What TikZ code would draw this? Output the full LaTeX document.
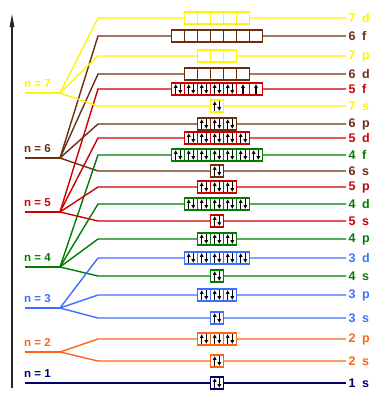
\documentclass[tikz,border=0pt]{standalone}
\usepackage{fontspec}
\setmainfont{Liberation Sans}
\usetikzlibrary{arrows.meta}
\definecolor{cY}{RGB}{255,245,0}
\definecolor{cBr}{RGB}{110,45,15}
\definecolor{cR}{RGB}{204,0,0}
\definecolor{cG}{RGB}{0,125,0}
\definecolor{cB}{RGB}{60,110,255}
\definecolor{cO}{RGB}{255,100,20}
\definecolor{cN}{RGB}{0,0,110}
\tikzset{
  lvl/.style={line width=1.4pt},
  lab/.style={font=\bfseries\fontsize{12.5}{12.5}\selectfont, anchor=west, inner sep=0pt},
  nlab/.style={font=\bfseries\fontsize{11.5}{11.5}\selectfont, anchor=base west, inner sep=0pt},
  orbbox/.style={draw, fill=white, line width=1.2pt, minimum height=12pt, inner sep=0pt},
  elec/.style={-{Triangle[length=3.6pt,width=3.6pt]}, line width=1.3pt, black},
}
\newcommand\shell[4]{% name, y, color, label
  \coordinate (#1l) at (25,#2);
  \coordinate (#1f) at (60,#2);
  \draw[lvl,#3] (#1l) -- (#1f);
  \node[nlab,text=#3] (#1t) at (24,#2-6) {#4};
}
\newcommand\orbline[5]{% name, y, color, label, shell
  \coordinate (#1b) at (98,#2);
  \coordinate (#1e) at (346,#2);
  \draw[lvl,#3] (#5f) -- (#1b) -- (#1e);
  \node[lab,text=#3] (#1t) at (348.5,#2) {#4};
}
\newcommand\orbcells[5]{% name, y, color, ncells, states
  \node[orbbox,draw=#3,minimum width=#4*13pt] (#1box) at (217,#2) {};
  \foreach \s [count=\i] in {#5} {
    \pgfmathsetmacro\cx{217-#4*6.5+(\i-0.5)*13}
    \ifnum\i>1 \draw[#3,line width=1.2pt] (\cx-6.5,#2-6) -- (\cx-6.5,#2+6); \fi
    \ifnum\s=2
      \draw[elec] (\cx-2.3,#2+4.7) -- (\cx-2.3,#2-4.7);
      \draw[elec] (\cx+2.3,#2-4.7) -- (\cx+2.3,#2+4.7);
    \fi
    \ifnum\s=1
      \draw[elec] (\cx,#2+4.7) -- (\cx,#2-4.7);
    \fi
  }
}
\begin{document}
\begin{tikzpicture}[x=1pt,y=-1pt]
\useasboundingbox (0,0) rectangle (379,394);
% axis
\coordinate (axB) at (12,388);
\coordinate (axT) at (12,14);
\draw[line width=1.3pt,black!85,-{Triangle[length=13pt,width=4.5pt]}] (axB) -- (axT);
% shells
\shell{s7}{93}{cY}{n = 7}
\shell{s6}{158}{cBr}{n = 6}
\shell{s5}{212}{cR}{n = 5}
\shell{s4}{267}{cG}{n = 4}
\shell{s3}{308}{cB}{n = 3}
\shell{s2}{352}{cO}{n = 2}
\shell{s1}{383}{cN}{n = 1}
% orbital lines
\orbline{o4f}{155}{cG}{4\hspace{3pt} f}{s4}
\orbline{o4d}{204}{cG}{4\hspace{3pt} d}{s4}
\orbline{o4p}{239}{cG}{4\hspace{3pt} p}{s4}
\orbline{o4s}{276}{cG}{4\hspace{3pt} s}{s4}
\orbline{o3d}{258}{cB}{3\hspace{3pt} d}{s3}
\orbline{o3p}{295}{cB}{3\hspace{3pt} p}{s3}
\orbline{o3s}{318}{cB}{3\hspace{3pt} s}{s3}
\orbline{o2p}{339}{cO}{2\hspace{3pt} p}{s2}
\orbline{o2s}{361}{cO}{2\hspace{3pt} s}{s2}
\orbline{o1s}{383}{cN}{1\hspace{3pt} s}{s1}
\orbline{o5f}{89}{cR}{5\hspace{3pt} f}{s5}
\orbline{o5d}{138}{cR}{5\hspace{3pt} d}{s5}
\orbline{o5p}{187}{cR}{5\hspace{3pt} p}{s5}
\orbline{o5s}{221}{cR}{5\hspace{3pt} s}{s5}
\orbline{o6f}{36}{cBr}{6\hspace{3pt} f}{s6}
\orbline{o6d}{74}{cBr}{6\hspace{3pt} d}{s6}
\orbline{o6p}{124}{cBr}{6\hspace{3pt} p}{s6}
\orbline{o6s}{171}{cBr}{6\hspace{3pt} s}{s6}
\orbline{o7d}{18}{cY}{7\hspace{3pt} d}{s7}
\orbline{o7p}{56}{cY}{7\hspace{3pt} p}{s7}
\orbline{o7s}{106}{cY}{7\hspace{3pt} s}{s7}
% boxes
\orbcells{o7d}{18}{cY}{5}{0,0,0,0,0}
\orbcells{o6f}{36}{cBr}{7}{0,0,0,0,0,0,0}
\orbcells{o7p}{56}{cY}{3}{0,0,0}
\orbcells{o6d}{74}{cBr}{5}{0,0,0,0,0}
\orbcells{o5f}{89}{cR}{7}{2,2,2,2,2,1,1}
\orbcells{o7s}{106}{cY}{1}{2}
\orbcells{o6p}{124}{cBr}{3}{2,2,2}
\orbcells{o5d}{138}{cR}{5}{2,2,2,2,2}
\orbcells{o4f}{155}{cG}{7}{2,2,2,2,2,2,2}
\orbcells{o6s}{171}{cBr}{1}{2}
\orbcells{o5p}{187}{cR}{3}{2,2,2}
\orbcells{o4d}{204}{cG}{5}{2,2,2,2,2}
\orbcells{o5s}{221}{cR}{1}{2}
\orbcells{o4p}{239}{cG}{3}{2,2,2}
\orbcells{o3d}{258}{cB}{5}{2,2,2,2,2}
\orbcells{o4s}{276}{cG}{1}{2}
\orbcells{o3p}{295}{cB}{3}{2,2,2}
\orbcells{o3s}{318}{cB}{1}{2}
\orbcells{o2p}{339}{cO}{3}{2,2,2}
\orbcells{o2s}{361}{cO}{1}{2}
\orbcells{o1s}{383}{cN}{1}{2}
\end{tikzpicture}
\end{document}
